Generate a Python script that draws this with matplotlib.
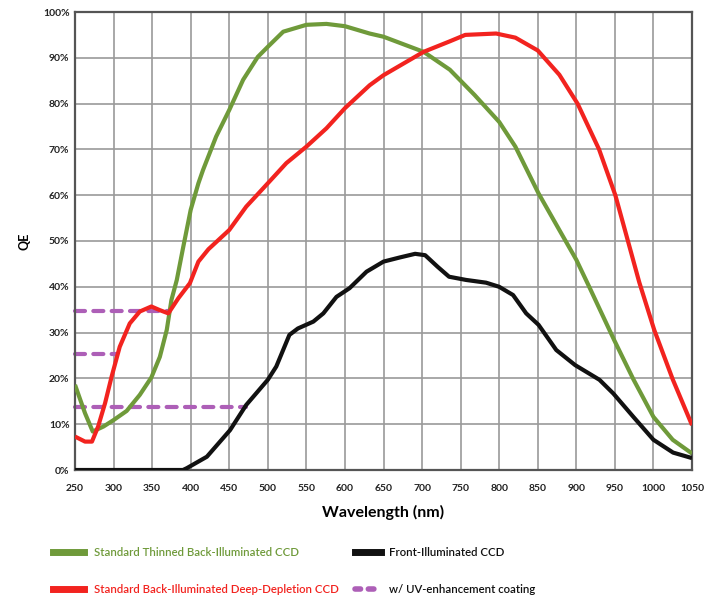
import matplotlib
matplotlib.use("Agg")
import matplotlib.pyplot as plt
from matplotlib.lines import Line2D

plt.rcParams['font.family'] = ['Lato', 'DejaVu Sans']

# Standard Thinned Back-Illuminated CCD (green)
green_wl = [250, 263, 273, 287, 300, 317, 334, 349, 360, 369, 375, 382, 390, 400, 410, 416,
            433, 450, 468, 487, 500, 520, 550, 576, 600, 632, 650, 702, 736, 768, 800,
            821, 851, 878, 900, 917, 949, 974, 1000, 1025, 1050]
green_qe = [18.6, 12.4, 8.4, 9.5, 10.9, 12.9, 16.4, 20.2, 24.7, 30.6, 37.1, 41.5, 48.4, 56.8,
            62.6, 65.5, 72.8, 78.6, 85.2, 90.2, 92.4, 95.7, 97.2, 97.4, 96.9, 95.3, 94.6,
            91.3, 87.4, 81.9, 76.0, 70.6, 60.4, 52.4, 45.9, 39.9, 28.4, 19.8, 11.6, 6.6, 3.6]

# Standard Back-Illuminated Deep-Depletion CCD (red)
red_wl = [250, 263, 272, 280, 289, 297.5, 308, 321, 334, 349, 360, 371, 384, 399, 410, 423,
          450, 472, 500, 524, 550, 576, 600, 632, 650, 702, 736, 756, 796, 821, 850,
          878, 901.6, 929.5, 950.6, 964, 981.6, 1001, 1025, 1050]
red_qe = [7.3, 6.2, 6.2, 9.5, 14.6, 20.4, 26.9, 32.0, 34.6, 35.7, 34.9, 34.2, 37.5, 40.8,
          45.5, 48.2, 52.4, 57.5, 62.6, 67.0, 70.6, 74.6, 79.0, 84.0, 86.2, 91.3, 93.6,
          95.0, 95.3, 94.4, 91.6, 86.3, 80.0, 70.0, 60.0, 51.8, 41.0, 30.6, 19.8, 9.8]

# Front-Illuminated CCD (black)
black_wl = [250, 300, 350, 390, 395, 421, 451, 472, 500, 511, 528, 539, 559, 572, 589, 606,
            628, 650, 671, 691, 704, 720, 735, 757, 783, 800, 818, 835, 851, 874, 898.5,
            930, 948, 974, 1000, 1025.5, 1050]
black_qe = [0, 0, 0, 0, 0.4, 2.9, 8.7, 14.2, 19.7, 22.6, 29.5, 30.9, 32.4, 34.2, 37.8, 39.7,
            43.3, 45.5, 46.4, 47.2, 46.9, 44.4, 42.2, 41.5, 40.9, 40.0, 38.2, 34.2, 31.7,
            26.2, 22.9, 19.7, 16.7, 11.6, 6.6, 3.8, 2.6]

# w/ UV-enhancement coating (purple dashed levels and their end wavelengths)
uv_levels = [34.7, 25.3, 13.7]
uv_end_wl = [370, 304, 472]
uv_start_wl = 250

x_ticks = list(range(250, 1051, 50))
y_ticks = list(range(0, 101, 10))

GREEN = '#6f9a3a'
RED = '#f2231f'
BLACK = '#111111'
PURPLE = '#ad5fb7'

fig = plt.figure(figsize=(7.04, 6.0), dpi=100)
ax = fig.add_axes([75/704, 1-470/600, (692-75)/704, (470-12)/600])

ax.set_xlim(250, 1050)
ax.set_ylim(0, 100)
ax.set_xticks(x_ticks)
ax.set_yticks(y_ticks)
ax.set_xticklabels([str(v) for v in x_ticks])
ax.set_yticklabels([f"{v}%" for v in y_ticks])
ax.grid(True, color='#9a9a9a', linewidth=1.2)
ax.set_axisbelow(True)
for s in ax.spines.values():
    s.set_color('#555555')
    s.set_linewidth(1.6)
ax.tick_params(length=0, labelsize=7.5, colors='#222222')
ax.tick_params(axis='x', pad=10)
ax.tick_params(axis='y', pad=4)
for lbl in ax.get_xticklabels() + ax.get_yticklabels():
    lbl.set_fontweight('bold')

lw = 3.0
for lvl, end in zip(uv_levels, uv_end_wl):
    ax.plot([uv_start_wl, end], [lvl, lvl], color=PURPLE, linewidth=3.0,
            dashes=(2.4, 2.0), dash_capstyle='round', zorder=2, clip_on=False)
common = dict(linewidth=lw, solid_capstyle='butt', solid_joinstyle='round')
ax.plot(black_wl, black_qe, color=BLACK, zorder=3, **common)
ax.plot(red_wl, red_qe, color=RED, zorder=4, **common)
ax.plot(green_wl, green_qe, color=GREEN, zorder=3, **common)

ax.set_xlabel('Wavelength (nm)', fontsize=11.5, fontweight='bold', labelpad=9)
ax.set_ylabel('QE', fontsize=9, fontweight='bold', labelpad=9)

leg_kw = dict(loc='upper left', frameon=False, fontsize=8.2, handlelength=2.7,
              handletextpad=0.9, labelspacing=2.3, borderpad=0, borderaxespad=0)
h1 = [Line2D([], [], color=GREEN, linewidth=5),
      Line2D([], [], color=RED, linewidth=5)]
l1 = ['Standard Thinned Back-Illuminated CCD',
      'Standard Back-Illuminated Deep-Depletion CCD']
fig.legend(h1, l1, bbox_to_anchor=(53/704, 1-547/600), labelcolor=[GREEN, RED],
           prop={'size': 8.2, 'weight': 'semibold'}, **{k: v for k, v in leg_kw.items() if k != 'fontsize'})
h2 = [Line2D([], [], color=BLACK, linewidth=5),
      Line2D([], [], color=PURPLE, linewidth=4, dashes=(1.0, 1.4), dash_capstyle='round')]
l2 = ['Front-Illuminated CCD', 'w/ UV-enhancement coating']
kw2 = {k: v for k, v in leg_kw.items() if k != 'fontsize'}
kw2.update(handlelength=2.3, handletextpad=0.7)
fig.legend(h2, l2, bbox_to_anchor=(355/704, 1-547/600), labelcolor=[BLACK, BLACK],
           prop={'size': 8.2, 'weight': 'semibold'}, **kw2)

fig.savefig('out.png', dpi=100)
